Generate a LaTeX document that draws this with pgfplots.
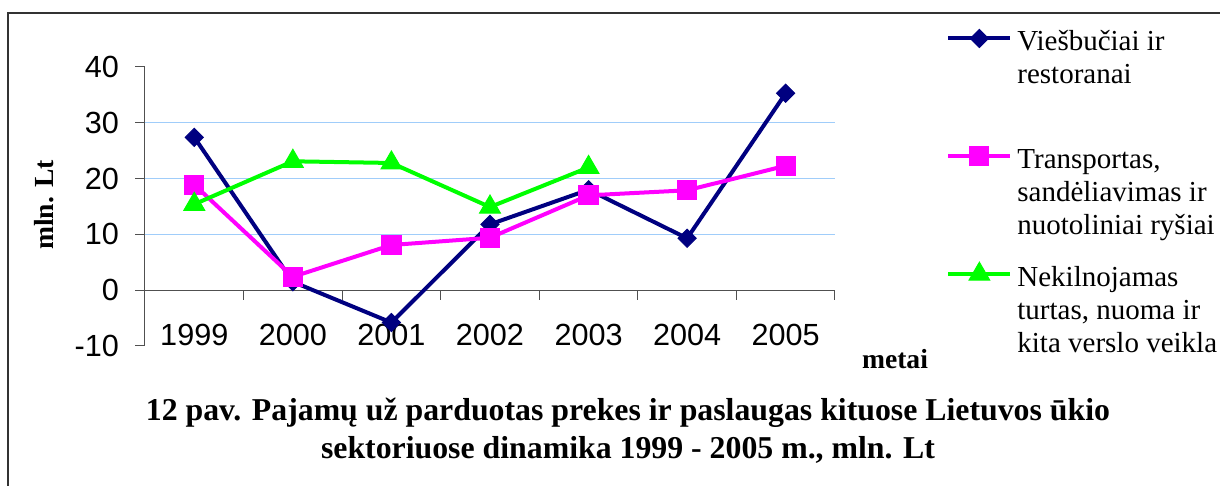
\documentclass[border=0pt]{standalone}
\usepackage{fontspec}
\setmainfont{Liberation Serif}
\newfontfamily\arialf{Liberation Sans}
\usepackage{pgfplots}
\pgfplotsset{compat=1.18}
\definecolor{navyc}{RGB}{0,0,128}
\definecolor{magc}{RGB}{255,0,255}
\definecolor{grnc}{RGB}{0,255,0}
\definecolor{gridc}{RGB}{160,205,250}
\definecolor{axc}{RGB}{80,80,80}
\begin{document}
\begin{tikzpicture}
\useasboundingbox (0,0) rectangle (610pt,243pt);
\draw[black!80, line width=0.6pt] (4pt,0pt) -- (4pt,236.5pt) -- (610pt,236.5pt);
\begin{axis}[
  at={(72.5pt,70pt)}, anchor=south west,
  scale only axis, width=345pt, height=139.5pt,
  xmin=-0.5, xmax=6.5, ymin=-10, ymax=40,
  axis x line*=bottom, axis y line*=left,
  axis line style={-},
  x axis line style={draw=none},
  y axis line style={draw=axc, line width=0.5pt},
  xtick={0,...,6}, xticklabels={1999,2000,2001,2002,2003,2004,2005},
  ytick={-10,0,10,20,30,40}, yticklabels={-10,0,10,20,30,40},
  tick align=outside, major tick length=5pt,
  xtick style={draw=none},
  ytick style={draw=axc, line width=0.5pt},
  ticklabel style={font=\arialf\fontsize{15.3pt}{18pt}\selectfont},
  xticklabel style={anchor=base, yshift=5pt},
  yticklabel style={xshift=-4.5pt},
  clip=false,
  legend image code/.code={
    \path[draw=none, fill=none] (0pt,-14.5pt) rectangle (31pt,-1.5pt);
    \draw[mark repeat=2,mark phase=2] plot coordinates {(0pt,-8pt) (15.5pt,-8pt) (31pt,-8pt)};
  },
  legend style={at={(1.16087,1.16129)}, anchor=north west, draw=none, fill=none,
    inner xsep=0pt, inner ysep=0pt, row sep=0pt, column sep=2.5pt,
    nodes={inner sep=0pt, text depth=, font=\fontsize{14.5pt}{16.5pt}\selectfont},
    cells={anchor=north west}},
]
\draw[gridc, line width=0.5pt] (axis cs:-0.5,10) -- (axis cs:6.5,10);
\draw[gridc, line width=0.5pt] (axis cs:-0.5,20) -- (axis cs:6.5,20);
\draw[gridc, line width=0.5pt] (axis cs:-0.5,30) -- (axis cs:6.5,30);
\draw[axc, line width=0.6pt] (axis cs:-0.5,0) -- (axis cs:6.5,0);
\pgfplotsinvokeforeach{0.5,1.5,2.5,3.5,4.5,5.5,6.5}{\draw[axc, line width=0.5pt] (axis cs:#1,0) -- ++(0pt,-5pt);}

\addplot[navyc, line width=2pt, mark=square*, mark size=3.2pt, mark options={rotate=45, solid, fill=navyc, line width=0.5pt}]
  coordinates {(0,27.4) (1,1.5) (2,-5.8) (3,11.8) (4,18.0) (5,9.3) (6,35.3)};
\addlegendentry{\parbox[t][58.75pt][t]{110pt}{\raggedright\rule{0pt}{14pt}Viešbučiai ir\\restoranai}}
\addplot[magc, line width=2pt, mark=square*, mark size=4.8pt, mark options={solid, fill=magc, line width=0.5pt}]
  coordinates {(0,18.9) (1,2.4) (2,8.1) (3,9.4) (4,17.0) (5,17.9) (6,22.3)};
\addlegendentry{\parbox[t][58.75pt][t]{110pt}{\raggedright\rule{0pt}{14pt}Transportas,\\sandėliavimas ir\\nuotoliniai ryšiai}}
\addplot[grnc, line width=2pt, mark=triangle*, mark size=6pt, mark options={solid, fill=grnc, line width=0.5pt}]
  coordinates {(0,15.4) (1,23.1) (2,22.8) (3,14.9) (4,22.0)};
\addlegendentry{\parbox[t][58.75pt][t]{110pt}{\raggedright\rule{0pt}{14pt}Nekilnojamas\\turtas, nuoma ir\\kita verslo veikla}}
\end{axis}
\node[font=\bfseries\fontsize{13.8pt}{16pt}\selectfont, rotate=90, anchor=base] at (26.5pt,140.5pt) {mln. Lt};
\node[font=\bfseries\fontsize{13.8pt}{16pt}\selectfont, anchor=base] at (447.5pt,58.5pt) {metai};
\node[font=\bfseries\fontsize{15.9pt}{19pt}\selectfont, anchor=base] at (314pt,32.5pt) {12 pav. Pajamų už parduotas prekes ir paslaugas kituose Lietuvos ūkio};
\node[font=\bfseries\fontsize{15.9pt}{19pt}\selectfont, anchor=base] at (314pt,13.5pt) {sektoriuose dinamika 1999 - 2005 m., mln. Lt};
\end{tikzpicture}
\end{document}
